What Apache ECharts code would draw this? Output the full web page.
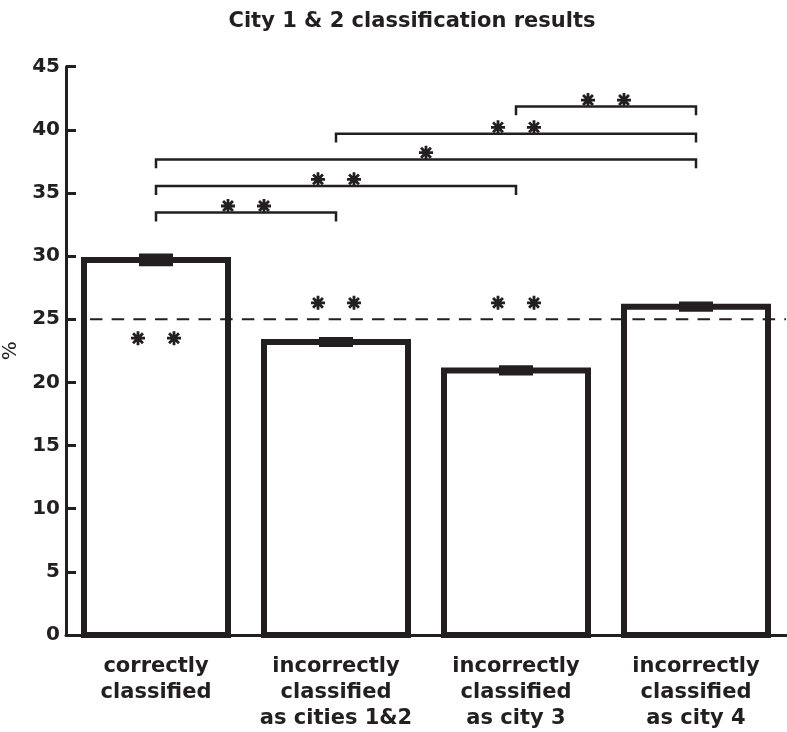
<!DOCTYPE html>
<html>
<head>
<meta charset="utf-8">
<script src="https://cdn.jsdelivr.net/npm/echarts@6/dist/echarts.min.js"></script>
<style>
  html, body { margin: 0; padding: 0; background: #ffffff; }
  #chart { width: 787px; height: 732px; }
</style>
</head>
<body>
<div id="chart"></div>
<script>
// ---------- data ----------
const categories = [
  'correctly\nclassified',
  'incorrectly\nclassified\nas cities 1&2',
  'incorrectly\nclassified\nas city 3',
  'incorrectly\nclassified\nas city 4'
];
const means = [29.7, 23.2, 20.95, 26.0];
const errors = [0.5, 0.4, 0.4, 0.4];
const chanceLevel = 25;
const yMin = 0, yMax = 45, yStep = 5;

// significance brackets (category index from -> to, height in %)
const bracketFrom = [0, 0, 0, 1, 2];
const bracketTo   = [1, 2, 3, 3, 3];
const bracketY    = [33.45, 35.55, 37.65, 39.7, 41.85];
const bracketDrop = 0.7;

// asterisks (x in category units, y in %)
const starX = [-0.1, 0.1, 0.9, 1.1, 1.9, 2.1,   0.4, 0.6,   0.9, 1.1,   1.5,   1.9, 2.1,   2.4, 2.6];
const starY = [23.5, 23.5, 26.3, 26.3, 26.3, 26.3, 33.97, 33.97, 36.08, 36.08, 38.19, 40.2, 40.2, 42.36, 42.36];

// ---------- chart ----------
const INK = '#231f20';
const FONT = 'DejaVu Sans';
const starPath = 'path://M40,0L60,0L60,100L40,100Z M0,40L100,40L100,60L0,60Z ' +
  'M21.71,7.57L92.43,78.29L78.29,92.43L7.57,21.71Z M78.29,7.57L92.43,21.71L21.71,92.43L7.57,78.29Z';

const chart = echarts.init(document.getElementById('chart'), null, { renderer: 'canvas' });

const barData = means.map((m, i) => [i, m]);
const bracketData = bracketFrom.map((f, i) => [f, bracketTo[i], bracketY[i]]);
const errData = means.map((m, i) => [i, m - errors[i], m + errors[i]]);
const starData = starX.map((x, i) => [x, starY[i]]);

const option = {
  animation: false,
  backgroundColor: '#ffffff',
  title: {
    text: 'City 1 & 2 classification results',
    left: 407, top: 6, textAlign: 'center',
    textStyle: { fontFamily: FONT, fontWeight: 'bold', fontSize: 21, color: INK }
  },
  grid: { left: 66, top: 66.7, width: 720, bottom: 97, containLabel: false, outerBoundsMode: 'none' },
  xAxis: [
    {
      type: 'category', data: categories, boundaryGap: true,
      axisLine: { lineStyle: { color: INK, width: 3 } },
      axisTick: { show: false },
      axisLabel: {
        interval: 0, margin: 19, color: INK,
        fontFamily: FONT, fontWeight: 'bold', fontSize: 21, lineHeight: 26, align: 'center'
      },
      splitLine: { show: false }
    },
    { type: 'value', min: -0.5, max: 3.5, show: false }
  ],
  yAxis: {
    type: 'value', min: yMin, max: yMax, interval: yStep,
    name: '%', nameLocation: 'middle', nameGap: 42, nameRotate: 90,
    nameTextStyle: { fontFamily: FONT, fontSize: 20, color: INK },
    axisLine: { show: true, onZero: false, lineStyle: { color: INK, width: 3 } },
    axisTick: { show: true, inside: true, length: 10, lineStyle: { color: INK, width: 3 } },
    axisLabel: { margin: 6, color: INK, fontFamily: FONT, fontWeight: 'bold', fontSize: 20 },
    splitLine: { show: false }
  },
  series: [
    {
      type: 'custom', xAxisIndex: 0, z: 2, data: barData,
      renderItem: function (params, api) {
        const top = api.coord([api.value(0), api.value(1)]);
        const base = api.coord([api.value(0), 0]);
        const w = 144;
        return {
          type: 'rect',
          shape: { x: top[0] - w / 2, y: top[1], width: w, height: base[1] - top[1] },
          style: { fill: '#ffffff', stroke: INK, lineWidth: 6, lineJoin: 'miter' }
        };
      }
    },
    {
      type: 'line', xAxisIndex: 1, z: 3, symbol: 'none',
      data: [[-0.417, chanceLevel], [3.5, chanceLevel]],
      lineStyle: { color: INK, width: 2, type: [12.5, 9.2], dashOffset: 12.7 },
      emphasis: { disabled: true }
    },
    {
      type: 'custom', xAxisIndex: 0, z: 4, data: errData,
      renderItem: function (params, api) {
        const lo = api.coord([api.value(0), api.value(1)]);
        const hi = api.coord([api.value(0), api.value(2)]);
        const w = 34;
        return {
          type: 'rect',
          shape: { x: lo[0] - w / 2, y: hi[1], width: w, height: lo[1] - hi[1] },
          style: { fill: INK }
        };
      }
    },
    {
      type: 'custom', xAxisIndex: 1, z: 4, data: bracketData,
      renderItem: function (params, api) {
        const y = api.value(2);
        const a = api.coord([api.value(0), y - bracketDrop]);
        const b = api.coord([api.value(0), y]);
        const c = api.coord([api.value(1), y]);
        const d = api.coord([api.value(1), y - bracketDrop]);
        return {
          type: 'polyline',
          shape: { points: [a, b, c, d] },
          style: { stroke: INK, lineWidth: 2.5, fill: null, lineJoin: 'miter' }
        };
      }
    },
    {
      type: 'scatter', xAxisIndex: 1, z: 5, data: starData,
      symbol: starPath, symbolSize: 14,
      itemStyle: { color: INK, opacity: 1 },
      emphasis: { disabled: true }
    }
  ]
};
chart.setOption(option);
</script>
</body>
</html>
